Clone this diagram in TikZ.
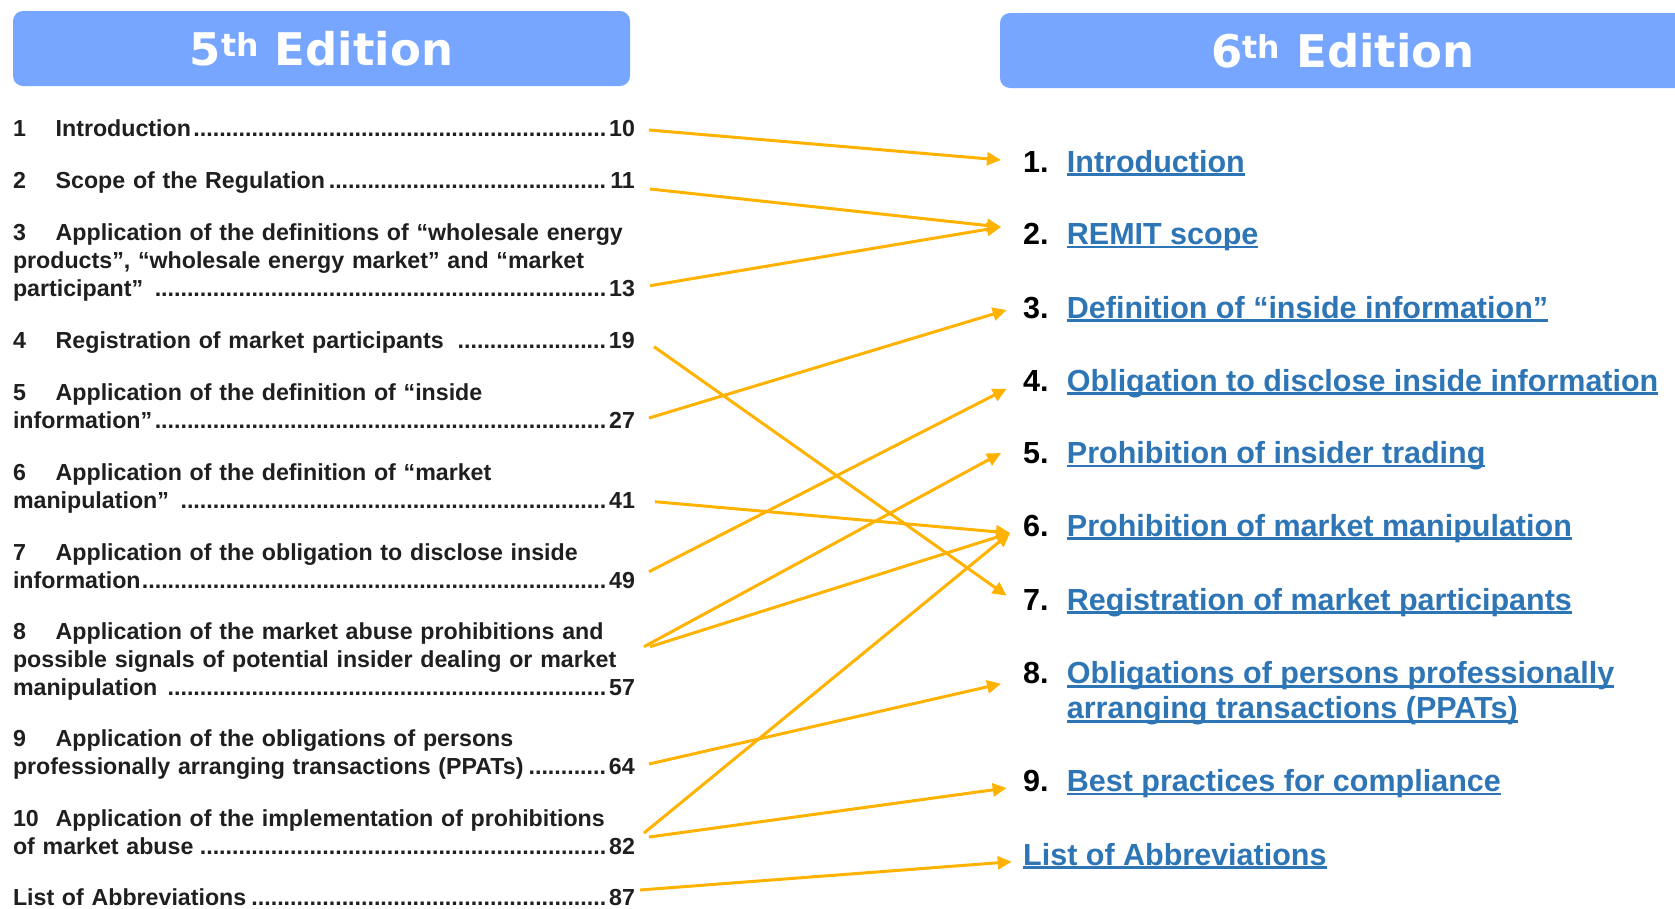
\documentclass[tikz,border=0pt]{standalone}
\usepackage{fontspec}
\setmainfont{Liberation Sans}
\newfontfamily\hdrfont{DejaVu Sans}
\usetikzlibrary{arrows.meta,calc}
\definecolor{hdrblue}{HTML}{76A6FF}
\definecolor{linkblue}{HTML}{2E75B6}
\definecolor{arrowgold}{HTML}{FFB300}
\newcommand\tnum[1]{\makebox[42.7pt][l]{#1}}
\newcommand\ld[1]{\leaders\hbox{.}\hskip 0pt plus 1filll\relax #1}
\newcommand\rnum[1]{\makebox[43.7pt][l]{\color{black}#1}}
\newcommand\ulink[1]{\setbox0\hbox{#1}\rlap{\rule[-0.125em]{\wd0}{0.095em}}\box0}
\tikzset{
  toc/.style={anchor=base west, inner sep=0pt, text width=621.7pt, align=left,
    font=\fontsize{23.2}{27.8}\selectfont\bfseries, text=black!88},
  rentry/.style={anchor=base west, inner sep=0pt,
    font=\fontsize{30.5}{35}\selectfont\bfseries, text=linkblue},
  hdr/.style={fill=hdrblue, rounded corners=10pt, text=white, inner sep=0pt,
    font=\hdrfont\fontsize{45}{54}\selectfont\bfseries},
  arr/.style={draw=arrowgold, line width=3pt, -{Triangle[length=14pt,width=13pt]}}
}
\begin{document}
\begin{tikzpicture}[x=1pt,y=-1pt]
\useasboundingbox (0,0) rectangle (1675,908);
\clip (0,0) rectangle (1675,908);
\fill[white] (0,0) rectangle (1675,908);
% headers
\node[hdr, minimum width=617pt, minimum height=75pt] (h5) at (321.5,48.5) {5\textsuperscript{th} Edition};
\node[hdr, minimum width=686pt, minimum height=75pt] (h6) at (1343,50.5) {6\textsuperscript{th} Edition};
% 5th edition table of contents
\node[toc] (e1) at (12.8,136.7) {\tnum{1}Introduction\ld{10}};
\node[toc] (e2) at (12.8,188) {\tnum{2}Scope of the Regulation\ld{11}};
\node[toc] (e3) at (12.8,240.4) {\tnum{3}Application of the definitions of “wholesale energy\\products”, “wholesale energy market” and “market\\participant” \ld{13}};
\node[toc] (e4) at (12.8,348.3) {\tnum{4}Registration of market participants \ld{19}};
\node[toc] (e5) at (12.8,400.6) {\tnum{5}Application of the definition of “inside\\information”\ld{27}};
\node[toc] (e6) at (12.8,480.7) {\tnum{6}Application of the definition of “market\\manipulation” \ld{41}};
\node[toc] (e7) at (12.8,560.9) {\tnum{7}Application of the obligation to disclose inside\\information\ld{49}};
\node[toc] (e8) at (12.8,639.9) {\tnum{8}Application of the market abuse prohibitions and\\possible signals of potential insider dealing or market\\manipulation \ld{57}};
\node[toc] (e9) at (12.8,746.7) {\tnum{9}Application of the obligations of persons\\professionally arranging transactions (PPATs)\ld{64}};
\node[toc] (e10) at (12.8,826.9) {\tnum{10}Application of the implementation of prohibitions\\of market abuse\ld{82}};
\node[toc] (eL) at (12.8,905.9) {List of Abbreviations\ld{87}};
% 6th edition contents
\node[rentry] (r1) at (1023,172) {\rnum{1.}\ulink{Introduction}};
\node[rentry] (r2) at (1023,244.6) {\rnum{2.}\ulink{REMIT scope}};
\node[rentry] (r3) at (1023,318) {\rnum{3.}\ulink{Definition of “inside information”}};
\node[rentry] (r4) at (1023,391) {\rnum{4.}\ulink{Obligation to disclose inside information}};
\node[rentry] (r5) at (1023,463.6) {\rnum{5.}\ulink{Prohibition of insider trading}};
\node[rentry] (r6) at (1023,536) {\rnum{6.}\ulink{Prohibition of market manipulation}};
\node[rentry] (r7) at (1023,610) {\rnum{7.}\ulink{Registration of market participants}};
\node[rentry] (r8) at (1023,683.7) {\begin{tabular}[t]{@{}l@{}l@{}}\rnum{8.}&\ulink{Obligations of persons professionally}\\&\ulink{arranging transactions (PPATs)}\end{tabular}};
\node[rentry] (r9) at (1023,791.6) {\rnum{9.}\ulink{Best practices for compliance}};
\node[rentry] (rL) at (1023,865.3) {\ulink{List of Abbreviations}};
% arrow start points
\coordinate (s1) at (649,130);
\coordinate (s2) at (650,189);
\coordinate (s3) at (650,285.7);
\coordinate (s4) at (654,346.7);
\coordinate (s5) at (649,418);
\coordinate (s6) at (655,501.7);
\coordinate (s7) at (649,571.7);
\coordinate (s8a) at (644,646.7);
\coordinate (s8b) at (650,646.7);
\coordinate (s9) at (649,764);
\coordinate (s10a) at (644,833);
\coordinate (s10b) at (649,837);
\coordinate (sL) at (640,890);
% arrows
\draw[arr] (s1) -- ($(r1.base west)+(-22,-12)$);
\draw[arr] (s2) -- ($(r2.base west)+(-22,-17.6)$);
\draw[arr] (s3) -- ($(r2.base west)+(-22,-17.6)$);
\draw[arr] (s4) -- ($(r7.base west)+(-16.3,-14.3)$);
\draw[arr] (s5) -- ($(r3.base west)+(-16.3,-8)$);
\draw[arr] (s6) -- ($(r6.base west)+(-13,-3)$);
\draw[arr] (s7) -- ($(r4.base west)+(-16.3,-2.3)$);
\draw[arr] (s8a) -- ($(r5.base west)+(-22,-10.6)$);
\draw[arr] (s8b) -- ($(r6.base west)+(-13,-3)$);
\draw[arr] (s9) -- ($(r8.base west)+(-22,0)$);
\draw[arr] (s10a) -- ($(r6.base west)+(-13,-3)$);
\draw[arr] (s10b) -- ($(r9.base west)+(-16.3,-3.6)$);
\draw[arr] (sL) -- ($(rL.base west)+(-11.3,-3.6)$);
\end{tikzpicture}
\end{document}
